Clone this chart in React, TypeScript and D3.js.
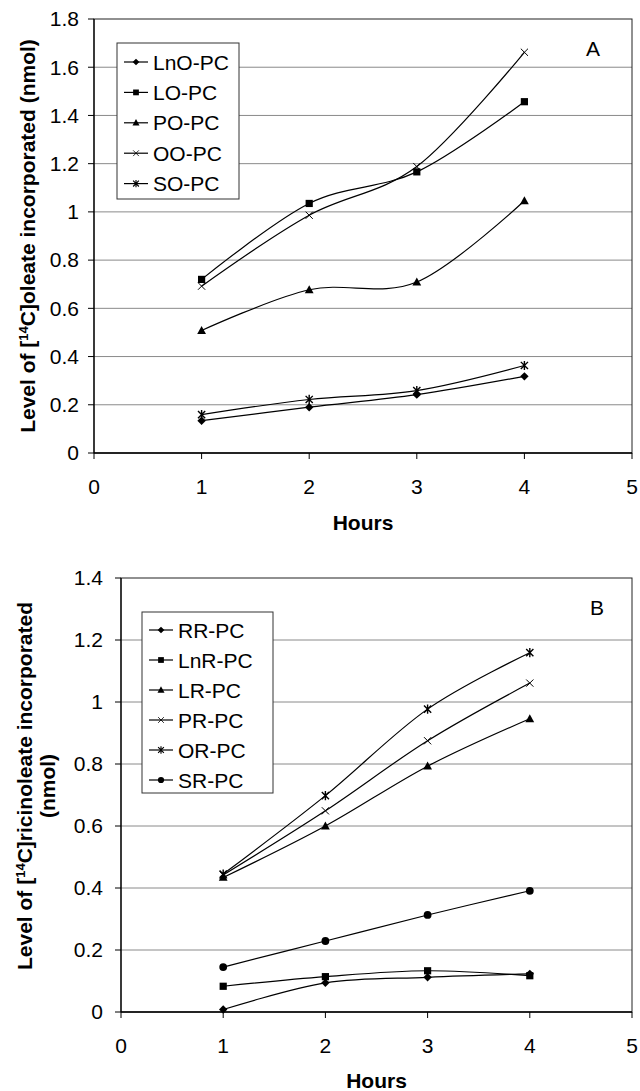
import React from "react";
import * as d3 from "d3";

// ---------- data ----------
const hours = [1, 2, 3, 4];
const xTicks = [0, 1, 2, 3, 4, 5];
const yTicksA = [0, 0.2, 0.4, 0.6, 0.8, 1, 1.2, 1.4, 1.6, 1.8];
const yTicksB = [0, 0.2, 0.4, 0.6, 0.8, 1, 1.2, 1.4];

const namesA = ["LnO-PC", "LO-PC", "PO-PC", "OO-PC", "SO-PC"];
const markersA = ["diamond", "square", "triangle", "x", "star"];
const lnoPC = [0.134, 0.19, 0.242, 0.318];
const loPC = [0.72, 1.035, 1.166, 1.457];
const poPC = [0.508, 0.677, 0.709, 1.046];
const ooPC = [0.692, 0.986, 1.188, 1.662];
const soPC = [0.159, 0.222, 0.259, 0.363];
const valuesA = [lnoPC, loPC, poPC, ooPC, soPC];

const namesB = ["RR-PC", "LnR-PC", "LR-PC", "PR-PC", "OR-PC", "SR-PC"];
const markersB = ["diamond", "square", "triangle", "x", "star", "circle"];
const rrPC = [0.008, 0.094, 0.112, 0.123];
const lnrPC = [0.083, 0.114, 0.133, 0.117];
const lrPC = [0.434, 0.6, 0.793, 0.946];
const prPC = [0.442, 0.649, 0.875, 1.061];
const orPC = [0.445, 0.698, 0.977, 1.159];
const srPC = [0.145, 0.229, 0.313, 0.391];
const valuesB = [rrPC, lnrPC, lrPC, prPC, orPC, srPC];

const FONT = "'Liberation Sans', Arial, sans-serif";

function Marker({ type, x, y, s = 1 }: { type: string; x: number; y: number; s?: number }) {
  const t = `translate(${x},${y}) scale(${s})`;
  switch (type) {
    case "diamond":
      return <path transform={t} d="M0,-4.2L4.2,0L0,4.2L-4.2,0Z" fill="#000" />;
    case "square":
      return <rect transform={t} x={-3.6} y={-3.6} width={7.2} height={7.2} fill="#000" />;
    case "triangle":
      return <path transform={t} d="M0,-4.6L4.4,3.4L-4.4,3.4Z" fill="#000" />;
    case "x":
      return <path transform={t} d="M-3.6,-3.6L3.6,3.6M-3.6,3.6L3.6,-3.6" stroke="#000" strokeWidth={1} fill="none" />;
    case "star":
      return (
        <path transform={t} d="M-3.6,-3.6L3.6,3.6M-3.6,3.6L3.6,-3.6M0,-4.6L0,4.6" stroke="#000" strokeWidth={1.4} fill="none" />
      );
    case "circle":
      return <circle transform={t} r={3.9} fill="#000" />;
    default:
      return null;
  }
}

type PanelProps = {
  left: number;
  right: number;
  top: number;
  bottom: number;
  yMax: number;
  yTicks: number[];
  labelGap: number;
  names: string[];
  markers: string[];
  values: number[][];
  legend: { x: number; y: number; w: number; h: number; first: number; step: number };
  letter: { x: number; y: number; t: string };
  hoursY: number;
};

function Panel(p: PanelProps) {
  const x = d3.scaleLinear().domain([0, 5]).range([p.left, p.right]);
  const y = d3.scaleLinear().domain([0, p.yMax]).range([p.bottom, p.top]);
  const line = d3
    .line<number>()
    .x((_, i) => x(hours[i]))
    .y((d) => y(d))
    .curve(d3.curveCardinal.tension(0));
  const fmt = (v: number) => String(+v.toFixed(1));
  return (
    <g fontFamily={FONT}>
      {p.yTicks.map((t) =>
        t > 0 && t < p.yMax ? (
          <line key={"g" + t} x1={p.left} x2={p.right} y1={y(t)} y2={y(t)} stroke="#8a8a8a" strokeWidth={1} />
        ) : null
      )}
      <rect x={p.left} y={p.top} width={p.right - p.left} height={p.bottom - p.top} fill="none" stroke="#222" strokeWidth={1} />
      <line x1={p.left} x2={p.right} y1={p.bottom} y2={p.bottom} stroke="#000" strokeWidth={1.5} />
      <line x1={p.left} x2={p.left} y1={p.top} y2={p.bottom} stroke="#000" strokeWidth={1.2} />
      {p.yTicks.map((t) => (
        <g key={"y" + t}>
          <line x1={p.left - 6} x2={p.left} y1={y(t)} y2={y(t)} stroke="#000" />
          <text x={p.left - p.labelGap} y={y(t)} dy="0.35em" textAnchor="end" fontSize={21}>
            {fmt(t)}
          </text>
        </g>
      ))}
      {xTicks.map((t) => (
        <g key={"x" + t}>
          <line x1={x(t)} x2={x(t)} y1={p.bottom} y2={p.bottom + 6} stroke="#000" />
          <text x={x(t)} y={p.bottom + 41} textAnchor="middle" fontSize={21}>
            {t}
          </text>
        </g>
      ))}
      <text x={(p.left + p.right) / 2} y={p.hoursY} textAnchor="middle" fontSize={21} fontWeight="bold">
        Hours
      </text>
      {p.values.map((vals, si) => (
        <g key={"s" + si}>
          <path d={line(vals) || ""} fill="none" stroke="#000" strokeWidth={1.2} />
          {vals.map((v, i) => (
            <Marker key={i} type={p.markers[si]} x={x(hours[i])} y={y(v)} />
          ))}
        </g>
      ))}
      <rect x={p.legend.x} y={p.legend.y} width={p.legend.w} height={p.legend.h} fill="#fff" stroke="#333" strokeWidth={1} />
      {p.names.map((n, i) => {
        const ly = p.legend.first + i * p.legend.step;
        return (
          <g key={"l" + n}>
            <line x1={p.legend.x + 7} x2={p.legend.x + 31} y1={ly} y2={ly} stroke="#000" strokeWidth={1.2} />
            <Marker type={p.markers[i]} x={p.legend.x + 19} y={ly} s={0.8} />
            <text x={p.legend.x + 36} y={ly} dy="0.36em" fontSize={21}>
              {n}
            </text>
          </g>
        );
      })}
      <text x={p.letter.x} y={p.letter.y} textAnchor="middle" fontSize={21}>
        {p.letter.t}
      </text>
    </g>
  );
}

export default function App() {
  return (
    <svg
      width={640}
      height={1091}
      style={{ position: "absolute", left: 0, top: 0, background: "#fff" }}
      fontFamily={FONT}
    >
      <rect width={640} height={1091} fill="#fff" />
      <Panel
        left={94}
        right={632}
        top={19}
        bottom={453}
        yMax={1.8}
        yTicks={yTicksA}
        labelGap={15}
        names={namesA}
        markers={markersA}
        values={valuesA}
        legend={{ x: 117, y: 43, w: 122, h: 156, first: 62, step: 30.4 }}
        letter={{ x: 593, y: 56, t: "A" }}
        hoursY={530}
      />
      <text transform="translate(35,236) rotate(-90)" textAnchor="middle" fontSize={21} fontWeight="bold" fontFamily={FONT}>
        Level of [<tspan dy={-7} fontSize={13}>14</tspan>
        <tspan dy={7}>C]oleate incorporated (nmol)</tspan>
      </text>
      <Panel
        left={121}
        right={632}
        top={578}
        bottom={1012}
        yMax={1.4}
        yTicks={yTicksB}
        labelGap={18}
        names={namesB}
        markers={markersB}
        values={valuesB}
        legend={{ x: 142, y: 612, w: 131, h: 181, first: 630, step: 30 }}
        letter={{ x: 597, y: 615, t: "B" }}
        hoursY={1088}
      />
      <text transform="translate(32,786) rotate(-90)" textAnchor="middle" fontSize={21} fontWeight="bold" fontFamily={FONT}>
        Level of [<tspan dy={-7} fontSize={13}>14</tspan>
        <tspan dy={7}>C]ricinoleate incorporated</tspan>
      </text>
      <text transform="translate(55,786) rotate(-90)" textAnchor="middle" fontSize={21} fontWeight="bold" fontFamily={FONT}>
        (nmol)
      </text>
    </svg>
  );
}
